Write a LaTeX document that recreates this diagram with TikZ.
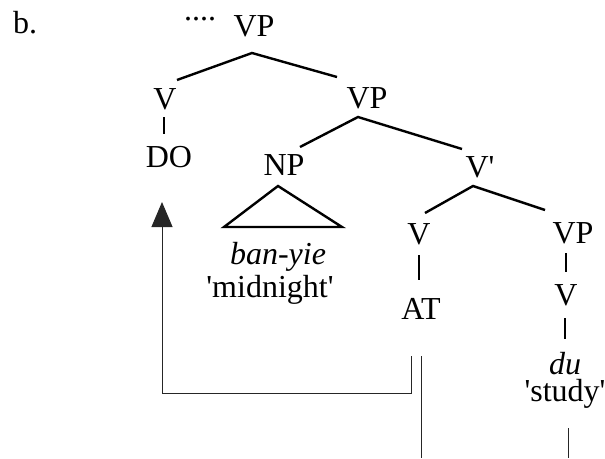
\documentclass[tikz,border=0pt]{standalone}
\usepackage{fontspec}
\setmainfont{Liberation Serif}
\usetikzlibrary{arrows.meta}
\newcommand{\sq}{\textquotesingle}
\begin{document}
\begin{tikzpicture}[x=1pt,y=-1pt,
  lbl/.style={anchor=base,inner sep=0pt,font=\fontsize{32}{38}\selectfont},
  branch/.style={line width=2.4pt},
  trace/.style={line width=1pt,color=black!85}]
\useasboundingbox (0,0) rectangle (605,458);

% labels
\node[lbl,anchor=base west] (ex) at (13,33) {b.};
\node[lbl,text height=4pt,text depth=0pt] (dots) at (200,20) {....};
\node[lbl] (vp0) at (254,36) {VP};
\node[lbl] (v1) at (165,109) {V};
\node[lbl] (do) at (169,167) {DO};
\node[lbl] (vp1) at (367,108) {VP};
\node[lbl] (np) at (284,175) {NP};
\node[lbl] (banyie) at (278,264) {\itshape ban-yie};
\node[lbl] (midnight) at (270,297) {\sq midnight\sq};
\node[lbl] (vbar) at (480,177) {V\sq};
\node[lbl] (v2) at (419,244) {V};
\node[lbl] (at) at (421,319) {AT};
\node[lbl] (vp2) at (573,243) {VP};
\node[lbl] (v3) at (566,305) {V};
\node[lbl,text depth=0pt] (du) at (565,374) {\itshape du};
\node[lbl] (study) at (565,401) {\sq study\sq};

% branch end points
\coordinate (vp0b) at (252,53);
\coordinate (v1t) at (177,80);
\coordinate (vp1t) at (337,77);
\coordinate (v1b) at (164,117);
\coordinate (dot) at (164,134);
\coordinate (vp1b) at (358,117);
\coordinate (npt) at (300,147);
\coordinate (vbart) at (462,149);
\coordinate (vbarb) at (473,186);
\coordinate (v2t) at (425,213);
\coordinate (vp2t) at (545,210);
\coordinate (v2b) at (419,255);
\coordinate (att) at (419,280);
\coordinate (vp2b) at (566,253);
\coordinate (v3t) at (566,272);
\coordinate (v3b) at (565,318);
\coordinate (dut) at (565,339);
\coordinate (tri1) at (278,186);
\coordinate (tri2) at (224,227);
\coordinate (tri3) at (342,227);

% tree branches
\draw[branch] (v1t) -- (vp0b) -- (vp1t);
\draw[branch] (v1b) -- (dot);
\draw[branch] (npt) -- (vp1b) -- (vbart);
\draw[branch,line join=miter] (tri1) -- (tri2) -- (tri3) -- cycle;
\draw[branch] (v2t) -- (vbarb) -- (vp2t);
\draw[branch] (v2b) -- (att);
\draw[branch] (vp2b) -- (v3t);
\draw[branch] (v3b) -- (dut);

% movement traces
\coordinate (atfoot) at (411,356);
\coordinate (corner) at (411,393);
\coordinate (dotip) at (162,202);
\coordinate (atlong1) at (421,356);
\coordinate (atlong2) at (421,458);
\coordinate (dufoot1) at (568,428);
\coordinate (dufoot2) at (568,458);
\draw[trace,-{Triangle[length=25pt,width=21pt]}] (atfoot) -- (corner) -| (dotip);
\draw[trace] (atlong1) -- (atlong2);
\draw[trace] (dufoot1) -- (dufoot2);
\end{tikzpicture}
\end{document}
